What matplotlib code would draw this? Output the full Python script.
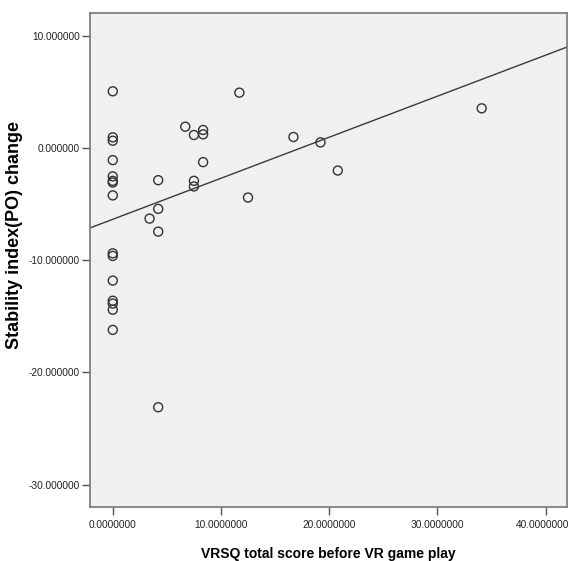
import numpy as np
import matplotlib.pyplot as plt
import matplotlib.transforms as mtransforms
from matplotlib.ticker import FormatStrFormatter

plt.rcParams['font.family'] = ['Liberation Sans', 'DejaVu Sans']

# VRSQ total score before play vs stability index (PO) change
vrsq = [0, 0, 0, 0, 0, 0, 0, 0, 0, 0, 0, 0, 0, 0, 0,
        4.2, 4.2, 4.2, 4.2, 3.4, 6.7, 7.5, 7.5, 7.5,
        8.35, 8.35, 8.35, 11.7, 12.5, 16.7, 19.2, 20.8, 34.1]
po_change = [5.09, 0.98, 0.68, -1.05, -2.5, -2.9, -3.05, -4.2, -9.37, -9.6,
             -11.8, -13.6, -13.85, -14.4, -16.2,
             -23.1, -2.84, -5.4, -7.43, -6.27, 1.93, 1.19, -2.9, -3.4,
             1.64, 1.25, -1.23, 4.97, -4.39, 1.01, 0.53, -1.98, 3.57]

# fit line as drawn in the original (intercept, slope)
fit_b0, fit_b1 = -6.33, 0.366

xticks = [0, 10, 20, 30, 40]
yticks = [10, 0, -10, -20, -30]

fig = plt.figure(figsize=(5.7, 5.61), dpi=100)
ax = fig.add_axes([0.158, 0.0963, 0.837, 0.881])
ax.set_facecolor('#f0f0f0')

ax.scatter(vrsq, po_change, s=42, facecolors='none', edgecolors='#333333',
           linewidths=1.0, zorder=3)

xl = np.array([-2.1, 42.0])
ax.plot(xl, fit_b0 + fit_b1 * xl, color='#3a3a3a', lw=1.0, zorder=2)

ax.set_xlim(-2.1, 42.0)
ax.set_ylim(-32.0, 12.1)
ax.set_xticks(xticks)
ax.set_yticks(yticks)
ax.xaxis.set_major_formatter(FormatStrFormatter('%.7f'))
ax.yaxis.set_major_formatter(FormatStrFormatter('%.6f'))
ax.tick_params(direction='out', length=6, width=1, color='#555555',
               labelsize=7.3, labelcolor='#222222')
ax.tick_params(axis='y', pad=1.5)

# keep the last x label inside the figure
last = ax.get_xticklabels()[-1]
last.set_transform(last.get_transform() +
                   mtransforms.ScaledTranslation(-0.035, 0, fig.dpi_scale_trans))

for sp in ax.spines.values():
    sp.set_color('#777777')
    sp.set_linewidth(1.2)

ax.set_xlabel('VRSQ total score before VR game play', fontsize=10,
              fontweight='bold', labelpad=12)
ax.set_ylabel('Stability index(PO) change', fontsize=13,
              fontweight='bold')
ax.yaxis.set_label_coords(-0.14, 0.55)

fig.savefig('out.png', dpi=100)
